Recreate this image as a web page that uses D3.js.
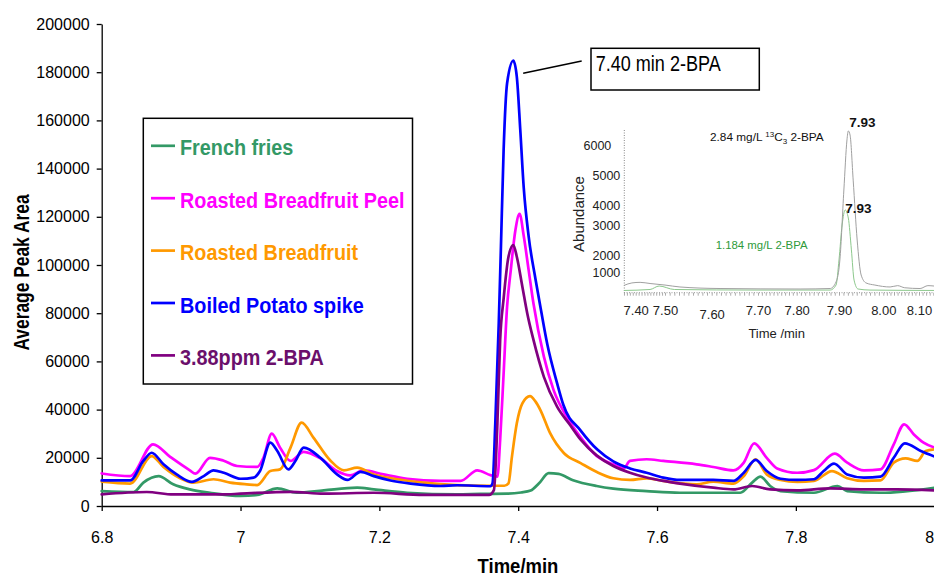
<!DOCTYPE html>
<html><head><meta charset="utf-8">
<script src="https://cdn.jsdelivr.net/npm/d3@7"></script>
<style>
html,body{margin:0;padding:0;background:#fff;}
svg{display:block;font-family:"Liberation Sans",Arial,Helvetica,sans-serif;}
</style></head><body>
<svg id="c" width="934" height="579"></svg>
<script>
// ---------- data ----------
const xTicks = [6.8, 7, 7.2, 7.4, 7.6, 7.8, 8];
const yTicks = [0, 20000, 40000, 60000, 80000, 100000, 120000, 140000, 160000, 180000, 200000];
const seriesNames = ["French fries", "Roasted Breadfruit Peel", "Roasted Breadfruit", "Boiled Potato spike", "3.88ppm 2-BPA"];
const seriesColors = ["#339966", "#FF00FF", "#FF9900", "#0000FF", "#800080"];

const frenchFries = [[6.8,6200],[6.846,5800],[6.86,9700],[6.882,12400],[6.903,9000],[6.927,6900],[6.956,5500],[7.0,4200],[7.024,4600],[7.053,7300],[7.081,5500],[7.12,6500],[7.168,7600],[7.192,6900],[7.24,5500],[7.312,4800],[7.345,5000],[7.384,5100],[7.404,5600],[7.418,6400],[7.43,9400],[7.444,13600],[7.458,13300],[7.479,10700],[7.513,8300],[7.537,7200],[7.585,6200],[7.633,5500],[7.681,5500],[7.72,5500],[7.737,9700],[7.749,12200],[7.763,8300],[7.778,6200],[7.826,5500],[7.86,8300],[7.874,6200],[7.922,5500],[8.0,7600]];
const breadfruitPeel = [[6.8,13500],[6.841,12400],[6.874,25600],[6.899,20300],[6.927,14800],[6.935,13400],[6.956,20000],[6.975,18900],[6.995,16600],[7.024,16200],[7.033,20000],[7.045,30000],[7.057,24200],[7.072,18700],[7.091,22500],[7.115,19800],[7.139,14500],[7.158,12700],[7.177,14800],[7.206,13100],[7.24,11300],[7.288,10400],[7.317,10400],[7.341,14800],[7.36,12800],[7.37,12200],[7.374,27400],[7.379,55000],[7.384,82700],[7.389,97000],[7.396,114500],[7.402,121200],[7.408,112000],[7.415,98000],[7.422,84000],[7.437,62000],[7.451,48100],[7.47,37000],[7.49,28500],[7.513,20800],[7.537,17300],[7.552,15600],[7.561,18700],[7.585,19400],[7.609,18700],[7.657,17300],[7.681,16200],[7.71,14800],[7.725,18000],[7.74,26000],[7.758,20000],[7.773,15600],[7.802,13800],[7.826,14900],[7.856,21700],[7.874,18000],[7.898,14800],[7.922,15200],[7.941,25600],[7.956,33900],[7.97,29700],[7.984,26300],[8.0,24200]];
const breadfruit = [[6.8,10100],[6.841,9300],[6.872,20700],[6.889,16200],[6.913,11500],[6.932,9700],[6.961,11100],[6.985,9700],[7.009,9000],[7.024,8700],[7.043,14500],[7.057,15200],[7.072,24200],[7.088,34600],[7.105,28400],[7.129,19000],[7.149,14800],[7.168,15900],[7.192,13100],[7.226,11100],[7.264,9700],[7.312,8700],[7.36,8400],[7.38,8400],[7.386,9400],[7.391,20500],[7.398,34300],[7.406,42600],[7.417,45600],[7.425,43300],[7.432,39800],[7.446,30200],[7.466,21900],[7.49,17800],[7.514,14000],[7.537,11500],[7.561,10800],[7.585,11500],[7.609,10400],[7.657,9000],[7.681,10100],[7.71,9300],[7.725,12400],[7.742,19400],[7.758,13100],[7.778,10800],[7.802,10000],[7.826,10400],[7.852,14500],[7.874,11500],[7.898,10400],[7.922,10600],[7.941,18000],[7.958,19800],[7.975,18700],[7.987,22800],[8.0,23500]];
const potatoSpike = [[6.8,10600],[6.841,10600],[6.86,18700],[6.872,22100],[6.889,17300],[6.908,13100],[6.93,10000],[6.947,12400],[6.961,14800],[6.976,13800],[7.0,11300],[7.019,11800],[7.028,14500],[7.043,26300],[7.053,22800],[7.069,15200],[7.079,18700],[7.091,24200],[7.115,20000],[7.139,13100],[7.154,10800],[7.173,14200],[7.192,12400],[7.216,10600],[7.245,9300],[7.288,8300],[7.312,8600],[7.36,8200],[7.363,9400],[7.367,34300],[7.372,75800],[7.375,106200],[7.379,147700],[7.384,175400],[7.393,184800],[7.398,178100],[7.403,156000],[7.408,132000],[7.415,112000],[7.425,94000],[7.433,81000],[7.442,67000],[7.456,51000],[7.465,42000],[7.49,31300],[7.514,23400],[7.537,18500],[7.561,15600],[7.585,13800],[7.609,11800],[7.633,10800],[7.681,10800],[7.71,10400],[7.725,13800],[7.742,19100],[7.758,14500],[7.778,11300],[7.802,10800],[7.826,11100],[7.84,14500],[7.855,17600],[7.874,13100],[7.898,11800],[7.922,12200],[7.941,20000],[7.957,26000],[7.98,22800],[8.0,20500]];
const bpa388 = [[6.8,4800],[6.865,5800],[6.903,4800],[6.975,4800],[7.0,5100],[7.072,5900],[7.12,5100],[7.192,5500],[7.264,4600],[7.312,4600],[7.358,4600],[7.365,6600],[7.37,34300],[7.374,68900],[7.379,86000],[7.386,103400],[7.393,108300],[7.398,103400],[7.406,91000],[7.413,80000],[7.422,68900],[7.437,53600],[7.456,41200],[7.475,33500],[7.49,27500],[7.513,21000],[7.537,16600],[7.561,13800],[7.585,11800],[7.609,10400],[7.633,9300],[7.681,7600],[7.71,6900],[7.737,8300],[7.763,6900],[7.802,6500],[7.85,7300],[7.898,6900],[7.946,6900],[8.0,6500]];
const seriesData = [frenchFries, breadfruitPeel, breadfruit, potatoSpike, bpa388];

// inset chromatogram
const insetXTicks = [7.4, 7.5, 7.6, 7.7, 7.8, 7.9, 8.0, 8.1];
const insetYTicks = [1000, 2000, 3000, 4000, 5000, 6000];
const insetLabelled = [[7.36,340],[7.387,470],[7.415,500],[7.449,440],[7.5,360],[7.532,260],[7.618,180],[7.808,155],[7.879,180],[7.893,520],[7.902,1720],[7.911,4500],[7.918,6170],[7.921,6470],[7.925,6330],[7.932,4830],[7.941,2500],[7.95,880],[7.961,470],[7.981,360],[8.019,260],[8.04,330],[8.06,220],[8.103,180],[8.125,330],[8.142,310]];
const insetNative = [[7.36,80],[7.449,130],[7.48,310],[7.52,130],[7.7,100],[7.879,100],[7.893,360],[7.9,1720],[7.907,3000],[7.914,3750],[7.921,3350],[7.928,2170],[7.934,620],[7.943,155],[7.97,100],[8.142,80]];

// ---------- helpers ----------
function squeeze(sel, f) {
  sel.each(function () {
    const w = this.getComputedTextLength();
    this.setAttribute("textLength", (w * f).toFixed(1));
    this.setAttribute("lengthAdjust", "spacingAndGlyphs");
  });
}

const svg = d3.select("#c");
const x = d3.scaleLinear().domain([6.8, 8]).range([101.7, 934.7]);
const y = d3.scaleLinear().domain([0, 200000]).range([506, 24]);

// ---------- inset ----------
const ix = d3.scaleLinear().domain(insetXTicks).range([635.7, 665, 711.7, 758, 796.7, 839, 883.3, 919]);
const iy = d3.scaleLinear().domain([0, 1000, 2000, 3000, 4000, 5000, 6000, 7000]).range([292, 272.7, 255, 225, 205, 175, 145, 115]);
const inset = svg.append("g");

const minor = d3.range(7.36, 8.145, 0.01);
const ixAxis = inset.append("g").attr("transform", "translate(0,292.7)")
  .call(d3.axisBottom(ix).tickValues(minor).tickSize(3).tickFormat(""));
ixAxis.select(".domain").remove();
ixAxis.selectAll(".tick line").attr("stroke", "#888").attr("stroke-width", 0.7);
inset.append("line").attr("x1", 624).attr("x2", 934).attr("y1", 292.7).attr("y2", 292.7)
  .attr("stroke", "#999").attr("stroke-width", 1).attr("stroke-dasharray", "1,1.5");
const ixLab = inset.append("g").attr("transform", "translate(0,292.7)")
  .call(d3.axisBottom(ix).tickValues(insetXTicks).tickSize(0).tickFormat(d3.format(".2f")));
ixLab.select(".domain").remove();
ixLab.selectAll("text").attr("font-size", 13).attr("fill", "#222")
  .attr("font-family", "Liberation Sans, Arial, sans-serif")
  .attr("y", 22).attr("dy", 0)
  .filter(d => Math.abs(d - 7.6) < 1e-9).attr("y", 26);

const iyAxis = inset.append("g").attr("transform", "translate(624.3,0)")
  .call(d3.axisLeft(iy).tickValues(insetYTicks).tickSize(0).tickPadding(4).tickFormat(d3.format("d")));
iyAxis.select(".domain").remove();
iyAxis.selectAll("text").attr("font-size", 12.5).attr("fill", "#222")
  .attr("font-family", "Liberation Sans, Arial, sans-serif")
  .filter(d => d === 6000).attr("x", -13);
inset.append("line").attr("x1", 624.3).attr("x2", 624.3).attr("y1", 130).attr("y2", 293)
  .attr("stroke", "#888").attr("stroke-width", 1).attr("stroke-dasharray", "1,1.5");

const iline = d3.line().x(d => ix(d[0])).y(d => iy(d[1])).curve(d3.curveMonotoneX);
inset.append("path").datum(insetNative).attr("d", iline).attr("fill", "none")
  .attr("stroke", "#8cc88c").attr("stroke-width", 1);
inset.append("path").datum(insetLabelled).attr("d", iline).attr("fill", "none")
  .attr("stroke", "#a0a0a0").attr("stroke-width", 1);

inset.append("text").attr("transform", "rotate(-90,584,214)")
  .attr("x", 584).attr("y", 214).attr("text-anchor", "middle").attr("font-size", 15).attr("fill", "#222")
  .text("Abundance");
inset.append("text").attr("x", 776.7).attr("y", 338).attr("text-anchor", "middle")
  .attr("font-size", 13).attr("fill", "#222").text("Time /min");
const lab1 = inset.append("text").attr("x", 710).attr("y", 140.7).attr("font-size", 11.8).attr("fill", "#111");
lab1.append("tspan").text("2.84 mg/L ");
lab1.append("tspan").attr("font-size", 8).attr("dy", -4).text("13");
lab1.append("tspan").attr("dy", 4).text("C");
lab1.append("tspan").attr("font-size", 8).attr("dy", 3).text("3");
lab1.append("tspan").attr("dy", -3).text(" 2-BPA");
inset.append("text").attr("x", 715.7).attr("y", 249).attr("font-size", 11.4).attr("fill", "#2e9a3a")
  .text("1.184 mg/L 2-BPA");
inset.append("text").attr("x", 862.3).attr("y", 126.5).attr("text-anchor", "middle")
  .attr("font-size", 13.5).attr("font-weight", "bold").attr("fill", "#111").text("7.93");
inset.append("text").attr("x", 858.3).attr("y", 213.3).attr("text-anchor", "middle")
  .attr("font-size", 13.5).attr("font-weight", "bold").attr("fill", "#111").text("7.93");

// ---------- main axes ----------
const yAxis = svg.append("g").attr("transform", `translate(${x(6.8)},0)`)
  .call(d3.axisLeft(y).tickValues(yTicks).tickSize(5).tickSizeOuter(0).tickPadding(7).tickFormat(d3.format("d")));
yAxis.selectAll("text").attr("font-size", 16).attr("fill", "#000")
  .attr("font-family", "Liberation Sans, Arial, sans-serif");
yAxis.selectAll("line, path").attr("stroke", "#000").attr("stroke-width", 1.3);

const xAxis = svg.append("g").attr("transform", `translate(0,${y(0)})`)
  .call(d3.axisBottom(x).tickValues(xTicks).tickSize(5).tickSizeOuter(0).tickFormat(d => String(+d.toFixed(1))));
xAxis.selectAll("text").attr("font-size", 16).attr("fill", "#000")
  .attr("font-family", "Liberation Sans, Arial, sans-serif").attr("y", 37).attr("dy", 0);
xAxis.selectAll("text").filter(d => d === 8).attr("text-anchor", "end").attr("x", -1);
xAxis.selectAll("line, path").attr("stroke", "#000").attr("stroke-width", 1.3);

// ---------- series ----------
const line = d3.line().x(d => x(d[0])).y(d => y(d[1])).curve(d3.curveMonotoneX);
seriesData.forEach((s, i) => {
  svg.append("path").datum(s).attr("d", line).attr("fill", "none")
    .attr("stroke", seriesColors[i]).attr("stroke-width", 2.7)
    .attr("stroke-linejoin", "round").attr("stroke-linecap", "round");
});

// ---------- axis titles ----------
svg.append("text").attr("transform", "translate(28.5,272.5) rotate(-90)")
  .attr("text-anchor", "middle").attr("font-size", 22).attr("font-weight", "bold")
  .text("Average Peak Area").call(squeeze, 0.79);
svg.append("text").attr("x", 518).attr("y", 573).attr("text-anchor", "middle")
  .attr("font-size", 21).attr("font-weight", "bold")
  .text("Time/min").call(squeeze, 0.88);

// ---------- callout ----------
svg.append("line").attr("x1", x(7.4) + 5).attr("y1", y(180000) + 1).attr("x2", 581.7).attr("y2", 61)
  .attr("stroke", "#000").attr("stroke-width", 1.5);
svg.append("rect").attr("x", 591).attr("y", 48.3).attr("width", 168.3).attr("height", 41.7)
  .attr("fill", "#fff").attr("stroke", "#000").attr("stroke-width", 1.5);
svg.append("text").attr("x", 595.7).attr("y", 70.7).attr("font-size", 22)
  .text("7.40 min 2-BPA").call(squeeze, 0.82);

// ---------- legend ----------
const lg = svg.append("g");
lg.append("rect").attr("x", 143.3).attr("y", 118.3).attr("width", 269.2).attr("height", 265.7)
  .attr("fill", "#fff").attr("stroke", "#000").attr("stroke-width", 1.5);
seriesNames.forEach((n, i) => {
  const by = 155.3 + i * 52.4;
  lg.append("line").attr("x1", 151).attr("x2", 175).attr("y1", by - 9.5).attr("y2", by - 9.5)
    .attr("stroke", seriesColors[i]).attr("stroke-width", 2.7);
  lg.append("text").attr("x", 180).attr("y", by).attr("font-size", 22).attr("font-weight", "bold")
    .attr("fill", i === 4 ? "#6b0f6b" : seriesColors[i]).text(n).call(squeeze, 0.9);
});
</script>
</body></html>
